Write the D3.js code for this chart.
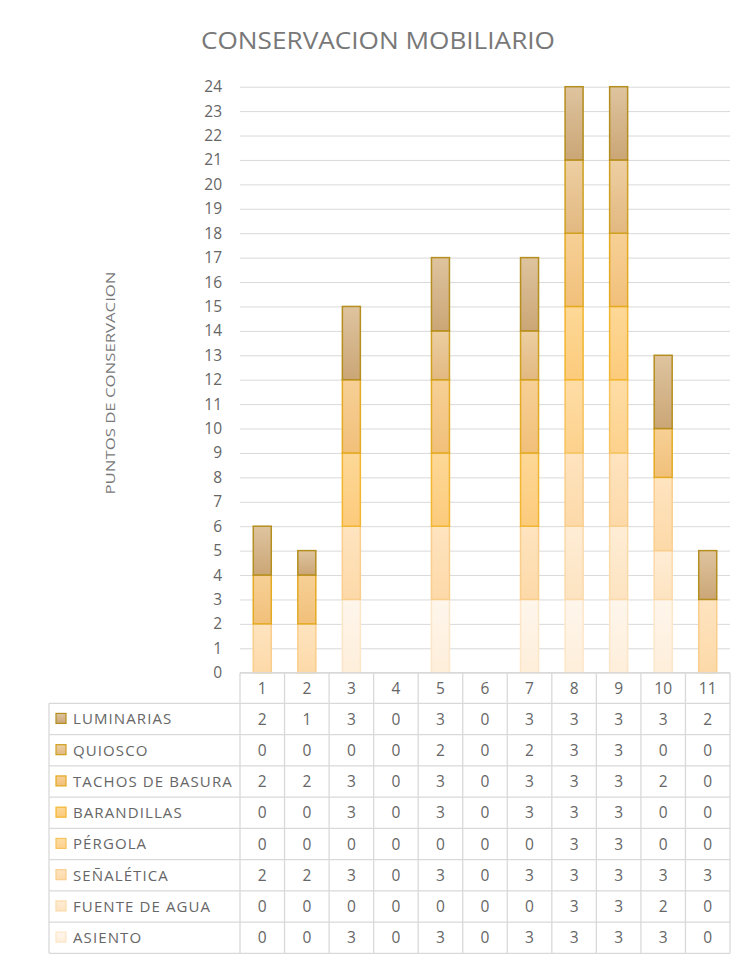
<!DOCTYPE html>
<html>
<head>
<meta charset="utf-8">
<script src="https://cdn.jsdelivr.net/npm/d3@7"></script>
<style>
  html, body { margin: 0; padding: 0; background: #fff; }
  svg { display: block; font-family: "Open Sans", "Noto Sans", sans-serif; }
</style>
</head>
<body>
<svg id="chart" width="738" height="960"></svg>
<script>
// Points per site (1–11) for each type of street furniture
const categories = ["1", "2", "3", "4", "5", "6", "7", "8", "9", "10", "11"];
const seriesNames = ["ASIENTO", "FUENTE DE AGUA", "SEÑALÉTICA", "PÉRGOLA", "BARANDILLAS", "TACHOS DE BASURA", "QUIOSCO", "LUMINARIAS"];
const asiento      = [0, 0, 3, 0, 3, 0, 3, 3, 3, 3, 0];
const fuenteDeAgua = [0, 0, 0, 0, 0, 0, 0, 3, 3, 2, 0];
const senaletica   = [2, 2, 3, 0, 3, 0, 3, 3, 3, 3, 3];
const pergola      = [0, 0, 0, 0, 0, 0, 0, 3, 3, 0, 0];
const barandillas  = [0, 0, 3, 0, 3, 0, 3, 3, 3, 0, 0];
const tachos       = [2, 2, 3, 0, 3, 0, 3, 3, 3, 2, 0];
const quiosco      = [0, 0, 0, 0, 2, 0, 2, 3, 3, 0, 0];
const luminarias   = [2, 1, 3, 0, 3, 0, 3, 3, 3, 3, 2];
const yTicks = d3.range(0, 25);

const seriesValues = [asiento, fuenteDeAgua, senaletica, pergola, barandillas, tachos, quiosco, luminarias];

// fill gradient (top, bottom) and outline for each series
const palette = [
  { top: "#FEF6EC", bottom: "#FEEEDA", stroke: "#FDE6C8" },
  { top: "#FEEDD6", bottom: "#FDE3C0", stroke: "#FBDAAA" },
  { top: "#FEE4C0", bottom: "#FDD9A8", stroke: "#F9CE8C" },
  { top: "#FEDDA6", bottom: "#FDD18C", stroke: "#F6C35C" },
  { top: "#FDD897", bottom: "#FCCB7C", stroke: "#F2B630" },
  { top: "#F7D096", bottom: "#F1C07A", stroke: "#E3AA22" },
  { top: "#EDCFA2", bottom: "#E2B880", stroke: "#CFA020" },
  { top: "#DEC49F", bottom: "#CBA676", stroke: "#B48E1E" }
];

const rows = categories.map((c, i) => {
  const r = { cat: c };
  seriesNames.forEach((s, k) => { r[s] = seriesValues[k][i]; });
  return r;
});

const svg = d3.select("#chart");
const textColor = "#666666";
const titleColor = "#787878";
const gridColor = "#D9D9D9";

const plotLeft = 240, plotRight = 730, plotTop = 86.7, plotBottom = 672.7;

const x = d3.scaleBand().domain(categories).range([plotLeft, plotRight]).paddingInner(0).paddingOuter(0);
const y = d3.scaleLinear().domain([0, 24]).range([plotBottom, plotTop]);
const barWidth = 18;

// gradients
const defs = svg.append("defs");
palette.forEach((p, i) => {
  const g = defs.append("linearGradient").attr("id", "g" + i)
    .attr("x1", 0).attr("y1", 0).attr("x2", 0).attr("y2", 1);
  g.append("stop").attr("offset", "0%").attr("stop-color", p.top);
  g.append("stop").attr("offset", "100%").attr("stop-color", p.bottom);
});

// title
svg.append("text")
  .attr("x", 378).attr("y", 49)
  .attr("text-anchor", "middle")
  .attr("font-size", 23)
  .attr("fill", titleColor)
  .attr("textLength", 354).attr("lengthAdjust", "spacingAndGlyphs")
  .text("CONSERVACION MOBILIARIO");

// y axis title
svg.append("text")
  .attr("transform", "translate(115,383) rotate(-90)")
  .attr("text-anchor", "middle")
  .attr("font-size", 13)
  .attr("fill", titleColor)
  .attr("textLength", 223).attr("lengthAdjust", "spacingAndGlyphs")
  .text("PUNTOS DE CONSERVACION");

// gridlines + tick labels
const yAxis = d3.axisLeft(y).tickValues(yTicks).tickSize(-(plotRight - plotLeft)).tickPadding(18).tickFormat(d3.format("d"));
const gAxis = svg.append("g").attr("transform", `translate(${plotLeft},0)`).call(yAxis);
gAxis.select(".domain").remove();
gAxis.selectAll(".tick line").attr("stroke", gridColor).attr("stroke-width", 1);
gAxis.selectAll(".tick text")
  .attr("fill", textColor).attr("font-size", 15.5)
  .attr("font-family", "'Open Sans', sans-serif");

// stacked bars
const stack = d3.stack().keys(seriesNames);
const stacked = stack(rows);

svg.append("g").selectAll("g")
  .data(stacked)
  .join("g")
  .each(function(layer, i) {
    d3.select(this).selectAll("rect")
      .data(layer.filter(d => d[1] - d[0] > 0))
      .join("rect")
      .attr("x", d => x(d.data.cat) + (x.bandwidth() - barWidth) / 2)
      .attr("width", barWidth)
      .attr("y", d => y(d[1]))
      .attr("height", d => y(d[0]) - y(d[1]))
      .attr("fill", `url(#g${i})`)
      .attr("stroke", palette[i].stroke)
      .attr("stroke-width", 1.5);
  });

// data table
const tableLeft = 49;
const headerTop = plotBottom, headerBottom = 703.3;
const rowH = 31.25;
const tableRows = seriesNames.slice().reverse();
const tableBottom = headerBottom + rowH * tableRows.length;
const table = svg.append("g");
const line = (x1, y1, x2, y2) => table.append("line")
  .attr("x1", x1).attr("y1", y1).attr("x2", x2).attr("y2", y2)
  .attr("stroke", gridColor).attr("stroke-width", 1.3);

// header row lines
line(plotLeft, headerTop, plotRight, headerTop);
// horizontal row lines
for (let r = 0; r <= tableRows.length; r++) {
  const yy = headerBottom + r * rowH;
  line(tableLeft, yy, plotRight, yy);
}
// vertical lines
line(tableLeft, headerBottom, tableLeft, tableBottom);
categories.forEach(c => line(x(c), headerTop, x(c), tableBottom));
line(plotRight, headerTop, plotRight, tableBottom);

// header labels
table.selectAll("text.hdr")
  .data(categories)
  .join("text")
  .attr("class", "hdr")
  .attr("x", d => x(d) + x.bandwidth() / 2)
  .attr("y", (headerTop + headerBottom) / 2)
  .attr("dy", "0.36em")
  .attr("text-anchor", "middle")
  .attr("font-size", 15.5)
  .attr("fill", textColor)
  .text(d => d);

// row labels with legend keys, and values
tableRows.forEach((name, r) => {
  const k = seriesNames.indexOf(name);
  const cy = headerBottom + r * rowH + rowH / 2;
  table.append("rect")
    .attr("x", 56).attr("y", cy - 5.5)
    .attr("width", 10).attr("height", 10)
    .attr("fill", `url(#g${k})`)
    .attr("stroke", palette[k].stroke).attr("stroke-width", 1.2);
  table.append("text")
    .attr("x", 73).attr("y", cy).attr("dy", "0.36em")
    .attr("font-size", 15).attr("letter-spacing", 1.1).attr("fill", textColor)
    .text(name);
  table.selectAll(null)
    .data(categories)
    .join("text")
    .attr("x", d => x(d) + x.bandwidth() / 2)
    .attr("y", cy).attr("dy", "0.36em")
    .attr("text-anchor", "middle")
    .attr("font-size", 15.5).attr("fill", textColor)
    .text((d, i) => seriesValues[k][i]);
});
</script>
</body>
</html>
